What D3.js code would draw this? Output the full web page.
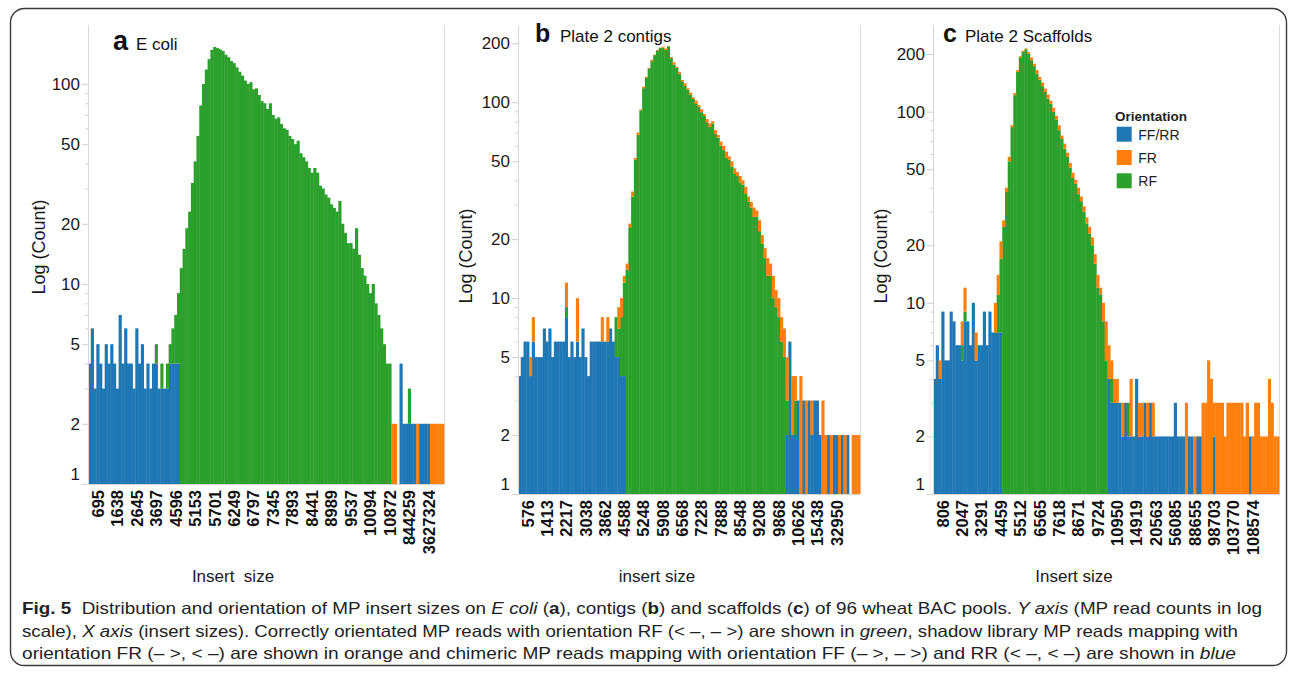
<!DOCTYPE html>
<html>
<head>
<meta charset="utf-8">
<script src="https://cdn.jsdelivr.net/npm/d3@7"></script>
<style>
  html, body { margin: 0; padding: 0; background: #fff; }
  svg { display: block; font-family: "Liberation Sans", Arial, sans-serif; }
</style>
</head>
<body>
<svg id="chart" width="1293" height="681"></svg>
<script>
// ---- data: read counts per insert-size bin, split by orientation ----
// panel a, E coli (128 bins)
var aTicks = ["695", "1638", "2645", "3697", "4596", "5153", "5701", "6249", "6797", "7345",
    "7893", "8441", "8989", "9537", "10094", "10872", "844259", "3627324"];
var aFF = [
    4, 6, 3, 5, 4, 3, 5, 4, 5, 4, 3, 7, 4, 6, 4, 4, 3, 6, 4, 5,
    3, 4, 3, 4, 4, 3, 3, 3, 3, 4, 4, 4, 4, 0, 0, 0, 0, 0, 0, 0,
    0, 0, 0, 0, 0, 0, 0, 0, 0, 0, 0, 0, 0, 0, 0, 0, 0, 0, 0, 0,
    0, 0, 0, 0, 0, 0, 0, 0, 0, 0, 0, 0, 0, 0, 0, 0, 0, 0, 0, 0,
    0, 0, 0, 0, 0, 0, 0, 0, 0, 0, 0, 0, 0, 0, 0, 0, 0, 0, 0, 0,
    0, 0, 0, 0, 0, 0, 0, 0, 0, 0, 0, 0, 4, 2, 2, 2, 2, 2, 0, 2,
    2, 2, 2, 0, 0, 0, 0, 0];
var aRF = [
    0, 0, 0, 0, 0, 0, 0, 0, 0, 0, 0, 0, 0, 0, 0, 0, 0, 0, 0, 0,
    0, 0, 0, 0, 1, 0, 1, 0, 1, 1, 2, 3, 5, 12, 15, 19, 23, 32, 41, 55,
    78, 100, 118, 133, 148, 153, 151, 149, 146, 140, 136, 130, 127, 121, 115, 110, 104, 100, 102, 94,
    95, 88, 82, 80, 75, 80, 70, 67, 68, 63, 60, 59, 55, 53, 50, 52, 45, 43, 41, 38,
    36, 38, 36, 31, 30, 28, 27, 25, 24, 23, 26, 20, 18, 16, 16, 15, 19, 14, 12, 11,
    10, 9, 10, 8, 7, 6, 5, 4, 4, 0, 0, 0, 0, 0, 0, 1, 0, 0, 0, 0,
    0, 0, 0, 0, 0, 0, 0, 0];
var aFR = [
    0, 0, 0, 0, 0, 0, 0, 0, 0, 0, 0, 0, 0, 0, 0, 0, 0, 0, 0, 0,
    0, 0, 0, 0, 0, 0, 0, 0, 0, 0, 0, 0, 0, 0, 0, 0, 0, 0, 0, 0,
    0, 0, 0, 0, 0, 0, 0, 0, 0, 0, 0, 0, 0, 0, 0, 0, 0, 0, 0, 0,
    0, 0, 0, 0, 0, 0, 0, 0, 0, 0, 0, 0, 0, 0, 0, 0, 0, 0, 0, 0,
    0, 0, 0, 0, 0, 0, 0, 0, 0, 0, 0, 0, 0, 0, 0, 0, 0, 0, 0, 0,
    0, 0, 0, 0, 0, 0, 0, 0, 0, 2, 2, 0, 0, 0, 0, 0, 0, 0, 2, 0,
    0, 0, 0, 2, 2, 2, 2, 2];

// panel b, plate 2 contigs (124 bins)
var bTicks = ["576", "1413", "2217", "3038", "3862", "4588", "5248", "5908", "6568", "7228",
    "7888", "8548", "9208", "9868", "10626", "15438", "32950"];
var bFF = [
    4, 5, 6, 6, 4, 6, 5, 5, 5, 7, 6, 7, 5, 6, 6, 6, 6, 8, 5, 6,
    5, 6, 5, 7, 5, 4, 6, 6, 6, 6, 6, 6, 6, 7, 6, 5, 5, 4, 4, 0,
    0, 0, 0, 0, 0, 0, 0, 0, 0, 0, 0, 0, 0, 0, 0, 0, 0, 0, 0, 0,
    0, 0, 0, 0, 0, 0, 0, 0, 0, 0, 0, 0, 0, 0, 0, 0, 0, 0, 0, 0,
    0, 0, 0, 0, 0, 0, 0, 0, 0, 0, 0, 0, 0, 0, 0, 0, 0, 2, 6, 2,
    2, 3, 1, 3, 0, 3, 2, 3, 3, 2, 0, 0, 2, 0, 2, 2, 0, 2, 0, 2,
    0, 0, 0, 0];
var bRF = [
    0, 0, 0, 0, 0, 0, 0, 0, 0, 0, 0, 0, 0, 0, 0, 0, 0, 1, 0, 0,
    0, 0, 0, 0, 0, 0, 0, 0, 0, 0, 0, 0, 0, 0, 0, 3, 2, 4, 8, 14,
    23, 33, 51, 68, 91, 118, 133, 149, 162, 174, 183, 189, 190, 185, 193, 168, 156, 150, 140, 128,
    121, 116, 109, 104, 98, 95, 89, 85, 79, 75, 78, 69, 66, 60, 57, 52, 51, 47, 43, 42,
    39, 38, 34, 31, 29, 26, 26, 22, 19, 16, 13, 13, 10, 9, 8, 6, 5, 1, 0, 0,
    1, 0, 0, 0, 0, 0, 0, 0, 0, 0, 0, 0, 0, 0, 0, 0, 0, 0, 0, 0,
    0, 0, 0, 0];
var bFR = [
    0, 0, 0, 0, 1, 2, 0, 0, 0, 0, 0, 0, 0, 0, 0, 0, 0, 3, 0, 0,
    0, 4, 0, 0, 0, 0, 0, 0, 0, 0, 2, 0, 2, 0, 0, 0, 2, 2, 1, 1,
    1, 2, 1, 2, 1, 2, 2, 1, 3, 1, 2, 1, 2, 3, 1, 2, 4, 2, 3, 2,
    4, 2, 3, 2, 4, 2, 3, 2, 3, 3, 2, 3, 2, 3, 3, 4, 2, 3, 3, 2,
    3, 2, 3, 2, 2, 3, 2, 3, 2, 2, 3, 2, 3, 2, 2, 2, 2, 2, 0, 2,
    1, 0, 3, 0, 3, 0, 1, 0, 0, 0, 3, 2, 0, 2, 0, 0, 2, 0, 2, 0,
    0, 2, 2, 2];

// panel c, plate 2 scaffolds (125 bins)
var cTicks = ["806", "2047", "3291", "4459", "5512", "6565", "7618", "8671", "9724", "10950",
    "14919", "20563", "56085", "88655", "98703", "103770", "108574"];
var cFF = [
    4, 6, 4, 9, 5, 5, 9, 8, 6, 6, 5, 8, 8, 6, 10, 5, 6, 6, 9, 6,
    9, 7, 7, 7, 7, 0, 0, 0, 0, 0, 0, 0, 0, 0, 0, 0, 0, 0, 0, 0,
    0, 0, 0, 0, 0, 0, 0, 0, 0, 0, 0, 0, 0, 0, 0, 0, 0, 0, 0, 0,
    0, 0, 0, 4, 3, 3, 3, 3, 2, 3, 2, 2, 2, 4, 2, 2, 3, 2, 3, 2,
    2, 2, 2, 2, 2, 2, 2, 3, 2, 2, 2, 0, 2, 2, 0, 2, 2, 0, 0, 0,
    0, 2, 0, 0, 0, 0, 0, 0, 0, 0, 0, 0, 0, 0, 2, 0, 0, 0, 0, 0,
    0, 0, 0, 0, 0];
var cRF = [
    0, 0, 0, 0, 0, 0, 0, 0, 0, 0, 1, 1, 0, 0, 0, 0, 0, 0, 0, 0,
    0, 0, 0, 4, 10, 25, 38, 55, 83, 122, 162, 191, 205, 212, 201, 186, 173, 158, 147, 136,
    127, 117, 110, 100, 91, 80, 72, 64, 58, 51, 45, 42, 37, 34, 30, 26, 23, 20, 16, 12,
    11, 8, 5, 0, 1, 0, 0, 0, 0, 0, 1, 0, 0, 0, 0, 0, 0, 0, 0, 0,
    0, 0, 0, 0, 0, 0, 0, 0, 0, 0, 0, 0, 0, 0, 0, 0, 0, 0, 0, 0,
    0, 0, 0, 0, 0, 0, 0, 0, 0, 0, 0, 0, 0, 0, 0, 0, 0, 0, 0, 0,
    0, 0, 0, 0, 0];
var cFR = [
    0, 0, 1, 0, 0, 0, 0, 0, 0, 0, 2, 3, 0, 0, 0, 2, 0, 0, 0, 0,
    0, 0, 3, 3, 4, 2, 2, 3, 2, 3, 3, 4, 3, 2, 4, 6, 5, 7, 5, 6,
    5, 6, 4, 5, 4, 5, 3, 4, 3, 3, 3, 2, 3, 2, 2, 2, 2, 2, 2, 2,
    1, 2, 3, 2, 1, 1, 1, 0, 1, 0, 0, 2, 0, 0, 1, 1, 0, 1, 0, 1,
    0, 0, 0, 0, 0, 0, 0, 0, 0, 0, 0, 3, 0, 0, 2, 0, 0, 3, 3, 5,
    4, 1, 3, 3, 3, 2, 3, 3, 3, 3, 3, 3, 2, 3, 0, 2, 3, 3, 2, 2,
    2, 4, 3, 2, 2];

var legendKeys = ["ff", "fr", "rf"];
var legendNames = ["FF/RR", "FR", "RF"];

var captionLines = [
    [["Fig. 5", "b"], ["  Distribution and orientation of MP insert sizes on ", ""], ["E coli", "i"], [" (", ""], ["a", "b"],
     ["), contigs (", ""], ["b", "b"], [") and scaffolds (", ""], ["c", "b"], [") of 96 wheat BAC pools. ", ""],
     ["Y axis", "i"], [" (MP read counts in log", ""]],
    [["scale), ", ""], ["X axis", "i"], [" (insert sizes). Correctly orientated MP reads with orientation RF (< \u2013, \u2013 >) are shown in ", ""],
     ["green", "i"], [", shadow library MP reads mapping with", ""]],
    [["orientation FR (\u2013 >, < \u2013) are shown in orange and chimeric MP reads mapping with orientation FF (\u2013 >, \u2013 >) and RR (< \u2013, < \u2013) are shown in ", ""],
     ["blue", "i"]]
];

// ---- layout ----
var panels = [
    { letter: "a", title: "E coli", xTitle: "Insert  size", ff: aFF, rf: aRF, fr: aFR, ticks: aTicks,
      x0: 88, x1: 444, base: 484, yMax: 197, yLabels: [1, 2, 5, 10, 20, 50, 100],
      letterX: 113, letterSize: 27, titleX: 136, titleY: 50, yTitleX: 45, yTitleY: 247, xTitleX: 233 },
    { letter: "b", title: "Plate 2 contigs", xTitle: "insert size", ff: bFF, rf: bRF, fr: bFR, ticks: bTicks,
      x0: 518, x1: 860, base: 494, yMax: 248, yLabels: [1, 2, 5, 10, 20, 50, 100, 200],
      letterX: 535, letterSize: 25, titleX: 560, titleY: 42, yTitleX: 472, yTitleY: 256, xTitleX: 657 },
    { letter: "c", title: "Plate 2 Scaffolds", xTitle: "Insert size", ff: cFF, rf: cRF, fr: cFR, ticks: cTicks,
      x0: 933, x1: 1279, base: 494, yMax: 284, yLabels: [1, 2, 5, 10, 20, 50, 100, 200],
      letterX: 943, letterSize: 25, titleX: 965, titleY: 41.5, yTitleX: 887, yTitleY: 256, xTitleX: 1074 }
];
var plotTop = 25, tickStart = 3, tickEvery = 7;

var color = d3.scaleOrdinal().domain(["ff", "fr", "rf"]).range(["#1f77b4", "#ff7f0e", "#2ca02c"]);

var svg = d3.select("#chart");

svg.append("rect")
    .attr("x", 10.5).attr("y", 8.5)
    .attr("width", 1276).attr("height", 657)
    .attr("rx", 14)
    .attr("fill", "none")
    .attr("stroke", "#3a3a3a")
    .attr("stroke-width", 1.4);

panels.forEach(drawPanel);

function drawPanel(p) {
    var n = p.ff.length;
    var x = d3.scaleBand().domain(d3.range(n)).range([p.x0, p.x1]);
    var y = d3.scaleLog().domain([1, p.yMax]).range([p.base, plotTop]);

    var rows = p.ff.map(function (v, i) { return { ff: v, rf: p.rf[i], fr: p.fr[i] }; });
    var series = d3.stack().keys(["ff", "rf", "fr"])(rows);

    var g = svg.append("g");

    // pane border on the right
    g.append("line")
        .attr("x1", p.x1 + 0.5).attr("x2", p.x1 + 0.5)
        .attr("y1", plotTop).attr("y2", p.base)
        .attr("stroke", "#dcdcdc");

    g.selectAll(".layer")
        .data(series)
        .enter().append("g")
        .attr("class", "layer")
        .attr("fill", function (d) { return color(d.key); })
        .selectAll("rect")
        .data(function (d) {
            return d.map(function (s, i) { return { i: i, lo: Math.max(s[0], 1), hi: s[1] }; })
                .filter(function (s) { return s.hi > s.lo; });
        })
        .enter().append("rect")
        .attr("x", function (d) { return x(d.i); })
        .attr("width", x.bandwidth() + 0.4)
        .attr("y", function (d) { return y(d.hi); })
        .attr("height", function (d) { return y(d.lo) - y(d.hi); });

    // y axis: minor ticks, then labelled ticks
    var minor = y.ticks().filter(function (t) { return p.yLabels.indexOf(t) < 0; });
    var gMinor = g.append("g")
        .attr("transform", "translate(" + p.x0 + ",0)")
        .call(d3.axisLeft(y).tickValues(minor).tickSize(3).tickSizeOuter(0).tickFormat(""));
    gMinor.select(".domain").attr("stroke", "#d6d6d6");
    gMinor.selectAll(".tick line").attr("stroke", "#d6d6d6");

    var gy = g.append("g")
        .attr("transform", "translate(" + p.x0 + ",0)")
        .call(d3.axisLeft(y).tickValues(p.yLabels).tickSize(6).tickSizeOuter(0).tickPadding(2)
            .tickFormat(d3.format("d")));
    gy.select(".domain").remove();
    gy.selectAll(".tick line").attr("stroke", "#d0d0d0");
    gy.selectAll(".tick text")
        .attr("fill", "#1a1a1a")
        .style("font-size", "17px")
        .attr("y", function (d) { return d === 1 ? -10 : 0; });

    // x axis: a label every few bins
    var tickIdx = p.ticks.map(function (t, j) { return tickStart + tickEvery * j; });
    var gx = g.append("g")
        .attr("transform", "translate(0," + p.base + ")")
        .call(d3.axisBottom(x).tickValues(tickIdx).tickSize(0).tickSizeOuter(0)
            .tickFormat(function (d, j) { return p.ticks[j]; }));
    gx.select(".domain").attr("stroke", "#d6d6d6");
    gx.selectAll(".tick text")
        .attr("transform", "rotate(-90)")
        .attr("x", -6).attr("y", 0).attr("dy", "0.36em")
        .style("text-anchor", "end")
        .style("font-size", "16.5px")
        .style("font-weight", "bold")
        .attr("fill", "#111");

    // titles
    var t = g.append("text").attr("y", p.titleY).attr("fill", "#111");
    t.append("tspan").attr("x", p.letterX).style("font-weight", "bold")
        .style("font-size", p.letterSize + "px").text(p.letter);
    t.append("tspan").attr("x", p.titleX).style("font-size", "17px").text(p.title);

    g.append("text")
        .attr("transform", "translate(" + p.yTitleX + "," + p.yTitleY + ") rotate(-90)")
        .attr("text-anchor", "middle")
        .style("font-size", "18px")
        .attr("fill", "#1a1a1a")
        .text("Log (Count)");

    g.append("text")
        .attr("x", p.xTitleX).attr("y", 582)
        .attr("text-anchor", "middle")
        .style("font-size", "17px")
        .style("white-space", "pre")
        .attr("fill", "#1a1a1a")
        .text(p.xTitle);
}

// legend in panel c
var legend = svg.append("g").attr("transform", "translate(1115,0)");
legend.append("text")
    .attr("x", 0).attr("y", 121)
    .style("font-size", "13.5px").style("font-weight", "bold")
    .attr("fill", "#222")
    .text("Orientation");
var item = legend.selectAll(".item")
    .data(legendKeys)
    .enter().append("g")
    .attr("transform", function (d, i) { return "translate(0," + (126.7 + i * 23.3) + ")"; });
item.append("rect")
    .attr("x", 1.7).attr("width", 15).attr("height", 15)
    .attr("fill", function (d) { return color(d); });
item.append("text")
    .attr("x", 23.3).attr("y", 13)
    .style("font-size", "14px")
    .attr("fill", "#222")
    .text(function (d, i) { return legendNames[i]; });

// caption
var capWidths = [1240, 1216, 1214];
captionLines.forEach(function (line, k) {
    var txt = svg.append("text")
        .attr("x", 22).attr("y", 614 + k * 22.5)
        .attr("textLength", capWidths[k])
        .attr("lengthAdjust", "spacingAndGlyphs")
        .style("font-family", "'Liberation Sans Narrow', 'Liberation Sans', sans-serif")
        .style("font-size", "16.5px")
        .style("white-space", "pre")
        .attr("fill", "#222");
    line.forEach(function (seg) {
        txt.append("tspan")
            .style("font-weight", seg[1] === "b" ? "bold" : "normal")
            .style("font-style", seg[1] === "i" ? "italic" : "normal")
            .text(seg[0]);
    });
});
</script>
</body>
</html>
